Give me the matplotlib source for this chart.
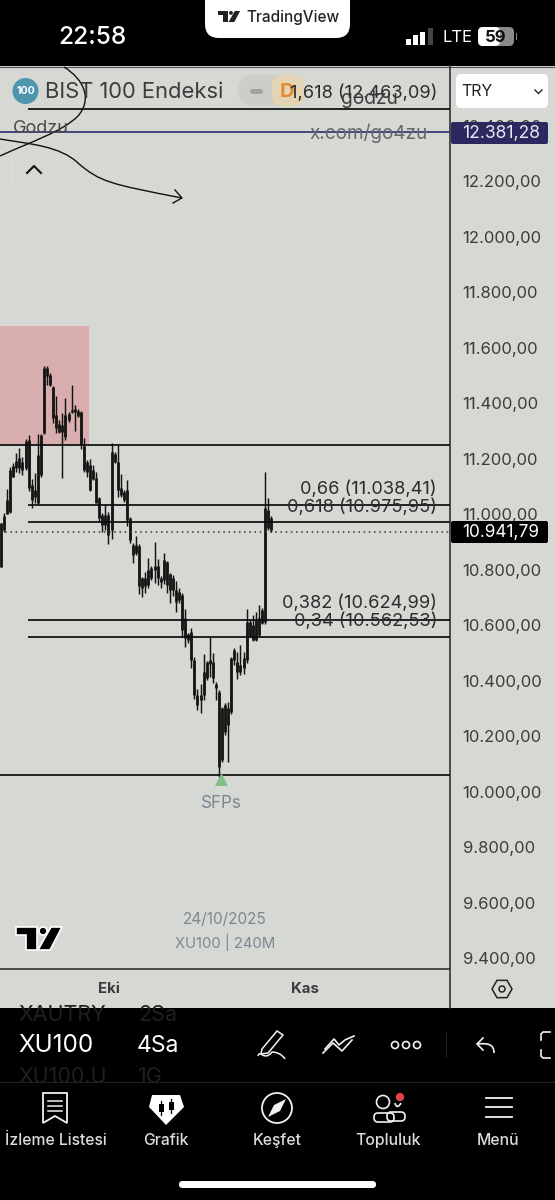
import numpy as np
import matplotlib
matplotlib.use("Agg")
from matplotlib import pyplot as plt
from matplotlib.patches import Rectangle, FancyBboxPatch, Circle, Polygon, PathPatch
from matplotlib.path import Path
from matplotlib.ticker import FuncFormatter

plt.rcParams["font.family"] = ["Inter", "DejaVu Sans"]

W, H = 555, 1200
BG = "#d5d8d3"
INK = "#3c3c3c"

# candles
highs = [10970, 11006, 11092, 11171, 11186, 11222, 11240, 11207, 11272, 11286, 11128, 11150, 11290, 11290, 11535,
         11535, 11510, 11463, 11427, 11340, 11366, 11420, 11369, 11466, 11394, 11380, 11373, 11276, 11196, 11200,
         11178, 11153, 11063, 11006, 11038, 11009, 11258, 11225, 11250, 11146, 11088, 11124, 10991, 10898, 10923,
         10894, 10775, 10793, 10844, 10815, 10901, 10840, 10779, 10862, 10833, 10790, 10782, 10761, 10736, 10718,
         10660, 10574, 10592, 10487, 10372, 10390, 10498, 10473, 10559, 10502, 10397, 10368, 10307, 10322, 10325,
         10487, 10520, 10505, 10530, 10505, 10660, 10620, 10638, 10649, 10674, 10664, 11153, 11060, 10995]
lows = [10811, 10937, 11002, 11006, 11135, 11153, 11150, 11142, 11160, 11085, 11024, 11042, 11038, 11135, 11290,
        11466, 11463, 11330, 11294, 11294, 11132, 11268, 11333, 11366, 11301, 11351, 11236, 11153, 11135, 11085,
        11124, 11042, 10973, 10937, 10944, 10894, 10912, 11186, 11063, 11063, 11045, 10959, 10898, 10826, 10854,
        10714, 10703, 10718, 10736, 10764, 10754, 10746, 10736, 10750, 10718, 10682, 10707, 10649, 10682, 10559,
        10523, 10538, 10448, 10336, 10296, 10286, 10332, 10404, 10415, 10394, 10332, 10055, 10106, 10206, 10106,
        10282, 10458, 10408, 10422, 10426, 10466, 10559, 10545, 10545, 10559, 10606, 10606, 10944, 10937]
body_top = [10970, 10995, 11052, 11160, 11175, 11193, 11204, 11189, 11265, 11268, 11106, 11088, 11214, 11286, 11528,
            11528, 11502, 11459, 11358, 11326, 11322, 11358, 11362, 11376, 11380, 11373, 11369, 11247, 11189, 11178,
            11160, 11132, 11060, 10998, 10998, 10998, 11225, 11218, 11189, 11096, 11081, 11088, 10988, 10890, 10890,
            10887, 10772, 10772, 10800, 10808, 10815, 10815, 10772, 10836, 10829, 10786, 10772, 10728, 10721, 10710,
            10628, 10570, 10577, 10476, 10350, 10350, 10433, 10469, 10476, 10469, 10390, 10361, 10304, 10314, 10304,
            10484, 10512, 10469, 10458, 10484, 10613, 10613, 10602, 10620, 10628, 10656, 11024, 11016, 10988]
body_bottom = [10811, 10944, 11002, 11009, 11135, 11168, 11168, 11160, 11168, 11096, 11052, 11063, 11042, 11142, 11294,
               11499, 11466, 11348, 11312, 11297, 11297, 11279, 11340, 11369, 11369, 11355, 11250, 11160, 11153, 11088,
               11128, 11042, 10988, 10962, 10962, 10926, 10944, 11189, 11088, 11070, 11052, 10980, 10908, 10854, 10862,
               10743, 10736, 10743, 10746, 10772, 10800, 10772, 10757, 10764, 10746, 10728, 10728, 10685, 10692, 10584,
               10556, 10548, 10476, 10350, 10314, 10332, 10350, 10412, 10462, 10412, 10376, 10088, 10116, 10217, 10242,
               10289, 10476, 10433, 10433, 10448, 10476, 10563, 10548, 10548, 10566, 10610, 10613, 10952, 10944]

fib_levels = [12463.09, 11038.41, 10975.95, 10624.99, 10562.53]
fib_labels = ["1,618 (12.463,09)", "0,66 (11.038,41)", "0,618 (10.975,95)", "0,382 (10.624,99)", "0,34 (10.562,53)"]
zone_levels = [11255, 10065]
last_price = 10941.79
upper_price = 12381.28
price_ticks = [12400, 12200, 12000, 11800, 11600, 11400, 11200, 11000, 10800, 10600, 10400, 10200, 10000, 9800,
               9600, 9400]
month_ticks = [35, 99]
month_labels = ["Eki", "Kas"]

fig = plt.figure(figsize=(W / 100, H / 100), dpi=100, facecolor="black")


def axes_px(x0, y0, x1, y1, zorder):
    return fig.add_axes([x0 / W, 1 - y1 / H, (x1 - x0) / W, (y1 - y0) / H], zorder=zorder)


# pixel layers under and over the chart
back = axes_px(0, 0, W, H, 0)
top = axes_px(0, 0, W, H, 2)
for a in (back, top):
    a.set_xlim(0, W)
    a.set_ylim(H, 0)
    a.axis("off")
    a.patch.set_alpha(0)

back.add_patch(Rectangle((0, 66), W, 942, fc=BG, ec="none"))
back.add_patch(Rectangle((0, 326), 89, 119, fc="#d9aeae", ec="none"))
back.plot([0, W], [66.5, 66.5], color="#555555", lw=0.8)
back.plot([450, 450], [66, 1008], color="#333333", lw=1.2)
back.plot([0, 450], [969, 969], color="#333333", lw=1.2)

# the chart itself
PX_PER_BAR = 3.07
PX_PER_UNIT = 0.2775
chart = axes_px(0, 66, 450, 969, 1)
chart.patch.set_alpha(0)
chart.set_xlim(-1 / PX_PER_BAR, 449 / PX_PER_BAR)
chart.set_ylim(12200 - (969 - 182.5) / PX_PER_UNIT, 12200 + 116.5 / PX_PER_UNIT)
for s in chart.spines.values():
    s.set_visible(False)

x = np.arange(len(highs))
# tick labels sit a pixel above their price, the candles were read against the labels
shift = 4
chart.vlines(x, np.array(lows) + shift, np.array(highs) + shift, color="#141414", lw=1.05)
chart.vlines(x, np.array(body_bottom) + shift, np.array(body_top) + shift, color="#141414", lw=2.0)

chart.hlines(zone_levels, 0 - 1 / PX_PER_BAR, 449 / PX_PER_BAR, color="#0c0c0c", lw=1.25)
chart.hlines(fib_levels, 27 / PX_PER_BAR, 449 / PX_PER_BAR, color="#0c0c0c", lw=1.25)
chart.axhline(upper_price, color="#3b3a78", lw=1.3)
chart.axhline(last_price, color="#333333", lw=1.1, ls=(0, (1, 2.4)))

chart.yaxis.tick_right()
chart.set_yticks(price_ticks)
chart.yaxis.set_major_formatter(FuncFormatter(lambda v, _: f"{int(v):,}".replace(",", ".") + ",00"))
chart.tick_params(axis="y", length=0, pad=9, labelsize=12, labelcolor=INK)
chart.set_xticks(month_ticks)
chart.set_xticklabels(month_labels, fontweight="bold", fontsize=10.8, color=INK)
chart.tick_params(axis="x", length=0, pad=9.5)
for t in chart.get_yticklabels():
    t.set_va("center")

# green SFP marker at the low
chart.scatter([71.8], [10052], marker="^", s=85, color="#82bd85", linewidths=0, zorder=5)

# price tags and currency box
top.add_patch(FancyBboxPatch((456, 74), 92, 34, boxstyle="round,pad=0,rounding_size=5", fc="white", ec="none"))
top.text(461, 92, "TRY", fontsize=11.5, color="#222222", va="center")
top.plot([535, 538.5, 542], [90, 93.5, 90], color="#222222", lw=1)
top.add_patch(FancyBboxPatch((451, 122), 97, 22, boxstyle="round,pad=0,rounding_size=2", fc="#2b2a60", ec="none"))
top.text(501, 133.5, "12.381,28", fontsize=12.6, color="#e8e8ee", ha="center", va="center")
top.add_patch(FancyBboxPatch((451, 521), 97, 22, boxstyle="round,pad=0,rounding_size=2", fc="black", ec="none"))
top.text(501, 532.5, "10.941,79", fontsize=12.4, color="white", ha="center", va="center")

# legend row
top.add_patch(FancyBboxPatch((238, 75), 66, 31, boxstyle="round,pad=0,rounding_size=15", fc="#c9ccc7", ec="none", alpha=0.8))
top.add_patch(FancyBboxPatch((272, 75), 32, 31, boxstyle="round,pad=0,rounding_size=10", fc="#e3d4b3", ec="none"))
top.add_patch(FancyBboxPatch((250, 89), 13, 5, boxstyle="round,pad=0,rounding_size=2.5", fc="#a0a29f", ec="none"))
top.text(287, 92, "D", fontsize=14.5, color="#e28a2f", fontweight="bold", ha="center", va="center")
top.add_patch(Circle((25.5, 91), 13, fc="#4f95ad", ec="none"))
top.text(25.5, 91.5, "100", fontsize=7.6, color="white", fontweight="bold", ha="center", va="center")
top.text(45, 91.5, "BIST 100 Endeksi", fontsize=15.8, color=INK, va="center")
top.text(13, 128.5, "Godzu", fontsize=13, color="#4a4a4a", va="center")
top.add_patch(FancyBboxPatch((12, 155), 44, 32, boxstyle="round,pad=0,rounding_size=3", fc="none", ec="#dcdfda", lw=0.8))
top.plot([27, 34, 41], [173, 166, 173], color="#111111", lw=1.5)

# fib labels
for label, level_y in zip(fib_labels, [93.5, 489, 507, 603, 621]):
    top.text(437, level_y, label, fontsize=13.1, color="#2c2c2c", ha="right", va="center")
top.text(369, 99, "godzu", fontsize=13.8, color="#3e3e3e", ha="center", va="center")
top.text(369, 133, "x.com/go4zu", fontsize=13.6, color="#66696c", ha="center", va="center")

top.text(221, 803.5, "SFPs", fontsize=12.3, color="#7e8791", ha="center", va="center")
top.text(225, 919.5, "24/10/2025", fontsize=11, color="#7e8791", ha="center", va="center")
top.text(225, 942.5, "XU100 | 240M", fontsize=10.7, color="#7e8791", ha="center", va="center")


def tv_logo(ax, x0, y0, s, color, edge="none"):
    # the logo is 46 by 24 in its own units
    kw = dict(fc=color, ec=edge, lw=1.2 if edge != "none" else 0)
    ax.add_patch(Polygon([(x0, y0), (x0 + 21 * s, y0), (x0 + 21 * s, y0 + 23 * s), (x0 + 10 * s, y0 + 23 * s),
                          (x0 + 10 * s, y0 + 8 * s), (x0, y0 + 8 * s)], **kw))
    ax.add_patch(Circle((x0 + 27 * s, y0 + 4 * s), 4 * s, **kw))
    ax.add_patch(Polygon([(x0 + 35 * s, y0), (x0 + 46 * s, y0), (x0 + 34 * s, y0 + 23 * s), (x0 + 22 * s, y0 + 23 * s)], **kw))


tv_logo(top, 16, 927, 1.0, "black", "white")

# hand drawn scribbles
M, C = Path.MOVETO, Path.CURVE4
loop = Path([(64, 67), (85, 80), (92, 100), (78, 116), (62, 132), (30, 142), (0, 156)], [M, C, C, C, C, C, C])
swoosh = Path([(0, 139), (30, 144), (60, 146), (78, 163), (100, 182), (110, 184), (182, 198)], [M, C, C, C, C, C, C])
for p in (loop, swoosh):
    top.add_patch(PathPatch(p, fc="none", ec="#111111", lw=1.0))
top.plot([175, 182, 173], [190, 198, 203], color="#111111", lw=1.0)

# status bar
top.add_patch(FancyBboxPatch((205, -20), 145, 58, boxstyle="round,pad=0,rounding_size=14", fc="white", ec="none"))
tv_logo(top, 218, 11, 0.48, "#222222")
top.text(246, 17.5, "TradingView", fontsize=11, color="#222222", va="center", fontweight="medium")
top.text(58, 37.5, "22:58", fontsize=17.6, color="white", va="center", fontweight="medium")
for bx, bh, col in zip([406, 413, 420, 428], [6, 10, 13, 17], ["white", "white", "white", "#444444"]):
    top.add_patch(Rectangle((bx, 45 - bh), 4.5, bh, fc=col, ec="none"))
top.text(442, 37.5, "LTE", fontsize=12, color="white", va="center")
top.add_patch(FancyBboxPatch((478, 27), 36, 19, boxstyle="round,pad=0,rounding_size=5", fc="#8a8a8a", ec="none"))
top.add_patch(FancyBboxPatch((478, 27), 22, 19, boxstyle="round,pad=0,rounding_size=5", fc="white", ec="none"))
top.text(496, 37, "59", fontsize=12, color="#111111", fontweight="bold", ha="center", va="center")
top.add_patch(Rectangle((515.5, 33), 1.5, 7, fc="#8a8a8a", ec="none"))

# settings hexagon on the time axis
angles = np.radians(np.arange(0, 360, 60))
top.add_patch(Polygon(np.c_[502 + 10 * np.cos(angles), 989 + 10 * np.sin(angles)], fc="none", ec="#222222", lw=1.1))
top.add_patch(Circle((502, 989), 3, fc="none", ec="#222222", lw=1.1))

# symbol row, the neighbours of the wheel picker are cut by the chart and tab bar
for label, px in [("XAUTRY", 18), ("2Sa", 138)]:
    t = top.text(px, 1015, label, fontsize=15.5, color="#1f1f1f", va="center")
    t.set_clip_path(Rectangle((0, 1008), W, 40, transform=top.transData))
for label, px in [("XU100.U", 18), ("1G", 138)]:
    t = top.text(px, 1077, label, fontsize=15.5, color="#1f1f1f", va="center")
    t.set_clip_path(Rectangle((0, 1050), W, 32, transform=top.transData))
top.text(18, 1046, "XU100", fontsize=17.5, color="white", va="center")
top.text(137, 1046, "4Sa", fontsize=16.5, color="white", va="center")
top.plot([0, W], [1082, 1082], color="#222222", lw=0.8)

# drawing tools
IC = "#f2f2f2"
top.add_patch(Polygon([(262, 1049), (277, 1031), (283, 1035), (268, 1053), (261, 1054)], fc="none", ec=IC, lw=1.1))
top.add_patch(PathPatch(Path([(258, 1056), (260, 1049), (264, 1062), (272, 1052), (276, 1052), (282, 1054), (285, 1059)],
                             [M, C, C, C, C, C, C]), fc="none", ec=IC, lw=1.1))
top.plot([323, 333, 342, 352], [1053, 1043, 1051, 1040], color=IC, lw=1.2)
top.plot([325, 334, 339, 345, 354], [1049, 1039, 1045, 1040, 1036], color=IC, lw=1.2)
for cx in (395, 406, 417):
    top.add_patch(Circle((cx, 1045), 3.5, fc="none", ec=IC, lw=1.2))
top.plot([446, 446], [1032, 1057], color="#222222", lw=0.8)
top.plot([483, 477, 483], [1038, 1044, 1050], color=IC, lw=1.2)
top.add_patch(PathPatch(Path([(477, 1044), (488, 1043), (494, 1044), (494, 1053)], [M, C, C, C]), fc="none", ec=IC, lw=1.2))
top.plot([550, 543, 541, 541], [1032, 1032, 1034, 1040], color=IC, lw=1.2)
top.plot([550, 543, 541, 541], [1058, 1058, 1056, 1050], color=IC, lw=1.2)

# tab bar
tab_names = ["İzleme Listesi", "Grafik", "Keşfet", "Topluluk", "Menü"]
tab_x = [55.5, 166, 277, 388, 498]
for name, px in zip(tab_names, tab_x):
    top.text(px, 1140.5, name, fontsize=11.3, color="#dcdcdc", ha="center", va="center", fontweight="medium")

top.add_patch(Polygon([(43, 1093), (67, 1093), (67, 1123), (55, 1116), (43, 1123)], fc="none", ec=IC, lw=1.3))
for ly in (1101, 1106, 1111):
    top.plot([48, 62], [ly, ly], color=IC, lw=1.1)

top.add_patch(Polygon([(152, 1095), (180, 1095), (184, 1107), (166, 1125), (149, 1107)], fc="white", ec="none"))
for cx, y0, y1 in ((161, 1101, 1115), (171, 1099, 1113)):
    top.plot([cx, cx], [y0, y1], color="black", lw=0.9)
    top.add_patch(Rectangle((cx - 2.5, y0 + 3), 5, 8, fc="black", ec="none"))

top.add_patch(Circle((277, 1108), 15, fc="none", ec=IC, lw=1.3))
top.add_patch(Polygon([(286, 1099), (280, 1111), (268, 1117), (274, 1105)], fc=IC, ec="none"))

top.add_patch(Circle((383, 1102), 6.5, fc="none", ec=IC, lw=1.2))
top.add_patch(FancyBboxPatch((374, 1113), 20, 9, boxstyle="round,pad=0,rounding_size=4", fc="none", ec=IC, lw=1.2))
top.add_patch(FancyBboxPatch((387, 1112), 18, 9, boxstyle="round,pad=0,rounding_size=4", fc="none", ec=IC, lw=1.2))
top.add_patch(PathPatch(Path([(395, 1103), (396, 1108), (399, 1107), (401, 1103)], [M, C, C, C]), fc="none", ec=IC, lw=1.2))
top.add_patch(Circle((400, 1097), 4.2, fc="#e0424c", ec="none"))

for ly in (1098, 1107, 1117):
    top.plot([486, 512], [ly, ly], color=IC, lw=1.3)

top.add_patch(FancyBboxPatch((179, 1181), 197, 7, boxstyle="round,pad=0,rounding_size=3.5", fc="white", ec="none"))

fig.savefig("out.png", dpi=100, facecolor="black")
